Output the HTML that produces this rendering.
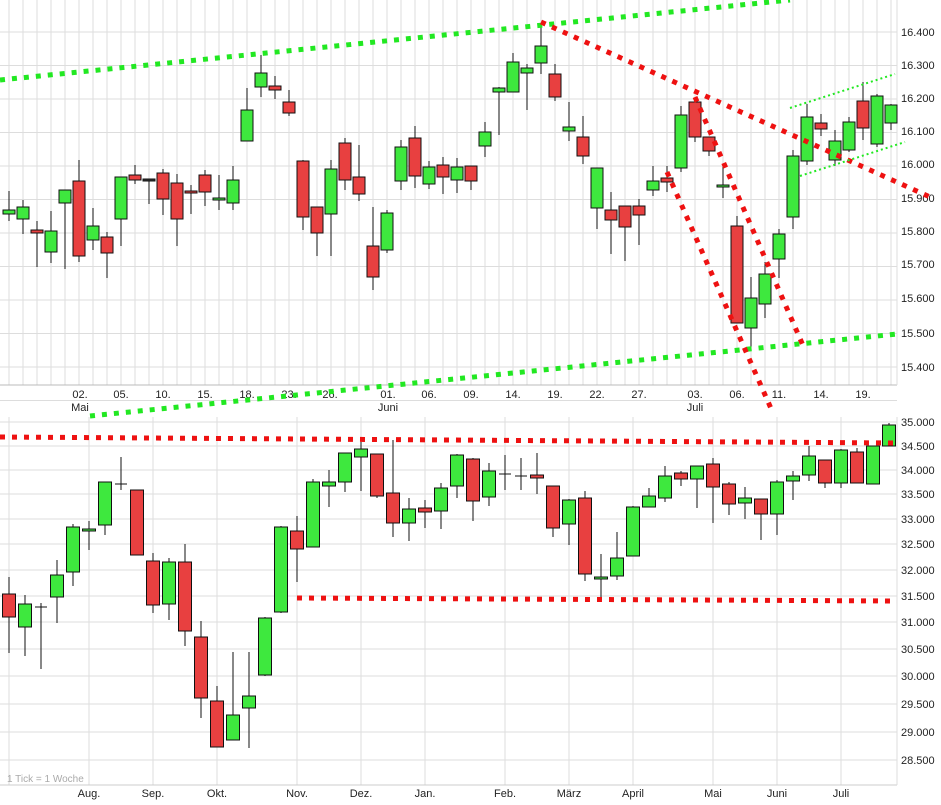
<!DOCTYPE html>
<html><head><meta charset="utf-8"><style>
html,body{margin:0;padding:0;background:#fff}
svg{display:block;font-family:"Liberation Sans",sans-serif;font-size:11px}
</style></head><body>
<svg id="s" width="941" height="805" xmlns="http://www.w3.org/2000/svg"></svg>
<script>
const s=document.getElementById('s');let h='';
const G='#3ee83e',R='#e84040';
// top grid
for(let x=9;x<=891;x+=14)h+=`<line x1="${x}" y1="0" x2="${x}" y2="385" stroke="#ddd"/>`;
const tl=[[16.4,32],[16.3,65],[16.2,98],[16.1,131],[16.0,164],[15.9,198],[15.8,231],[15.7,264],[15.6,298],[15.5,333],[15.4,367]];
for(let k=0;k<=12;k++){let y=32+(k-1)*33.5;h+=`<line x1="0" y1="${y}" x2="897" y2="${y}" stroke="#ddd"/>`;}
tl.forEach(t=>h+=`<text x="901" y="${t[1]+4}" fill="#222">${t[0].toFixed(3).replace('.',',').replace(/^(\d\d),(\d)(\d\d)$/,'$1.$2$3').replace(',','.')}</text>`);
h+=`<line x1="0" y1="385" x2="897" y2="385" stroke="#bbb"/><line x1="897" y1="0" x2="897" y2="385" stroke="#ddd"/>`;
[['02.',80],['05.',121],['10.',163],['15.',205],['18.',247],['23.',289],['26.',330],['01.',388],['06.',429],['09.',471],['14.',513],['19.',555],['22.',597],['27.',639],['03.',695],['06.',737],['11.',779],['14.',821],['19.',863]].forEach(a=>h+=`<text x="${a[1]}" y="398" text-anchor="middle" fill="#222">${a[0]}</text>`);
[['Mai',80],['Juni',388],['Juli',695]].forEach(a=>h+=`<text x="${a[1]}" y="411" text-anchor="middle" fill="#222">${a[0]}</text>`);
// bottom grid
const bl=[['35.000',422],['34.500',446],['34.000',470],['33.500',494],['33.000',519],['32.500',544],['32.000',570],['31.500',596],['31.000',622],['30.500',649],['30.000',676],['29.500',704],['29.000',732],['28.500',760]];
bl.forEach(t=>{h+=`<line x1="0" y1="${t[1]}" x2="897" y2="${t[1]}" stroke="#ddd"/><text x="901" y="${t[1]+4}" fill="#222">${t[0]}</text>`;});
const mo=[['Aug.',89],['Sep.',153],['Okt.',217],['Nov.',297],['Dez.',361],['Jan.',425],['Feb.',505],['März',569],['April',633],['Mai',713],['Juni',777],['Juli',841]];
mo.forEach(m=>{h+=`<line x1="${m[1]}" y1="417" x2="${m[1]}" y2="785" stroke="#ddd"/><text x="${m[1]}" y="797" text-anchor="middle" fill="#222">${m[0]}</text>`;});
h+=`<line x1="9" y1="417" x2="9" y2="785" stroke="#ddd"/><line x1="0" y1="785" x2="897" y2="785" stroke="#ccc"/><line x1="897" y1="417" x2="897" y2="785" stroke="#ddd"/>`;
h+=`<text x="7" y="782" fill="#aaa" font-size="10">1 Tick = 1 Woche</text>`;
function c(x,bt,bb,wt,wb,col,w){h+=`<line x1="${x}" y1="${wt}" x2="${x}" y2="${wb}" stroke="#111"/>`;
 if(bb-bt<2){h+=`<rect x="${x-w/2}" y="${bt}" width="${w}" height="2" fill="${col}" stroke="#111"/>`;}
 else h+=`<rect x="${x-w/2}" y="${bt}" width="${w}" height="${bb-bt}" fill="${col}" stroke="#111"/>`;}
const T=[[210,214,191,221,G],[207,219,200,234,G],[230,233,221,267,R],[231,252,211,263,G],[190,203,190,269,G],[181,256,160,262,R],[226,240,208,250,G],[237,253,232,278,R],[177,219,177,246,G],[175,180,165,184,R],[179,180,179,204,'#333'],[173,199,169,215,R],[183,219,174,246,R],[191,193,185,214,R],[175,192,170,206,R],[198,200,175,210,G],[180,203,166,210,G],[110,141,88,141,G],[73,87,55,97,G],[86,90,76,99,R],[102,113,90,116,R],[161,217,160,230,R],[207,233,207,256,R],[169,214,160,256,G],[143,180,138,190,R],[177,194,145,201,R],[246,277,207,290,R],[213,250,210,253,G],[147,181,140,190,G],[138,176,126,188,R],[167,184,161,189,G],[165,177,157,194,R],[167,180,158,193,G],[166,181,166,190,R],[132,146,122,157,G],[88,92,87,135,G],[62,92,53,92,G],[68,73,64,110,G],[46,63,24,74,G],[74,97,64,101,R],[127,131,102,141,G],[137,156,116,164,R],[168,208,168,229,G],[210,220,192,254,R],[206,227,206,261,R],[206,215,199,245,R],[181,190,166,196,G],[178,182,166,192,R],[115,168,106,172,G],[102,137,102,142,R],[137,151,137,156,R],[185,187,166,198,G],[226,323,216,323,R],[298,328,277,350,G],[274,304,262,318,G],[234,259,229,278,G],[156,217,150,229,G],[117,161,104,165,G],[123,129,114,136,R],[141,160,130,166,G],[122,150,117,152,G],[101,128,82,140,R],[96,144,94,147,G],[105,123,104,130,G]];
T.forEach((d,i)=>c(9+14*i,d[0],d[1],d[2],d[3],d[4],12));
const B=[[594,617,577,653,R],[604,627,595,656,G],[607,607,603,669,'#111'],[575,597,560,623,G],[527,572,524,586,G],[529,531,521,550,G],[482,525,482,535,G],[484,484,457,490,'#111'],[490,555,490,555,R],[561,605,553,613,R],[562,604,558,620,G],[562,631,544,646,R],[637,698,621,718,R],[701,747,686,747,R],[715,740,652,740,G],[696,708,652,748,G],[618,675,617,676,G],[527,612,526,613,G],[531,549,516,582,R],[482,547,479,547,G],[482,486,470,507,G],[453,482,453,492,G],[449,457,442,491,G],[454,496,454,498,R],[493,523,440,537,R],[509,523,498,541,G],[508,512,500,528,R],[488,511,483,529,G],[455,486,454,498,G],[459,501,458,521,R],[471,497,463,506,G],[474,474,455,490,'#111'],[476,476,458,490,'#111'],[475,478,453,494,R],[486,528,486,537,R],[500,524,499,545,G],[498,574,491,581,R],[577,579,554,601,G],[558,576,532,580,G],[507,556,506,556,G],[496,507,488,507,G],[476,498,466,502,G],[473,479,471,486,R],[466,479,466,508,G],[464,487,458,523,R],[484,504,482,515,R],[498,503,487,519,G],[499,514,499,540,R],[482,514,480,535,G],[476,481,471,500,G],[456,475,446,481,G],[460,483,460,488,R],[450,483,449,488,G],[452,483,448,483,R],[446,484,446,484,G],[425,446,423,446,G]];
B.forEach((d,i)=>{if(d[0]==d[1]){h+=`<line x1="${9+16*i}" y1="${d[2]}" x2="${9+16*i}" y2="${d[3]}" stroke="#111"/><line x1="${9+16*i-6}" y1="${d[0]}" x2="${9+16*i+6}" y2="${d[0]}" stroke="#111"/>`;}else c(9+16*i,d[0],d[1],d[2],d[3],d[4],13);});
function L(x1,y1,x2,y2,col,w,da){h+=`<line x1="${x1}" y1="${y1}" x2="${x2}" y2="${y2}" stroke="${col}" stroke-width="${w}" stroke-dasharray="${da}"/>`;}
const gc='#22e822',rc='#ee1111';
L(0,80,790,0,gc,5,'5 7');L(90,416,897,334,gc,5,'5 7');
L(541,22,930,197,rc,5,'5 7');L(667,172,773,413,rc,5,'5 7');L(695,97,805,350,rc,5,'5 7');
L(790,108,895,74,gc,2,'2 3');L(800,176,905,142,gc,2,'2 3');
L(0,437,897,443,rc,5,'5 7');L(297,598,897,601,rc,5,'5 7');
s.innerHTML=h;
</script>
</body></html>
